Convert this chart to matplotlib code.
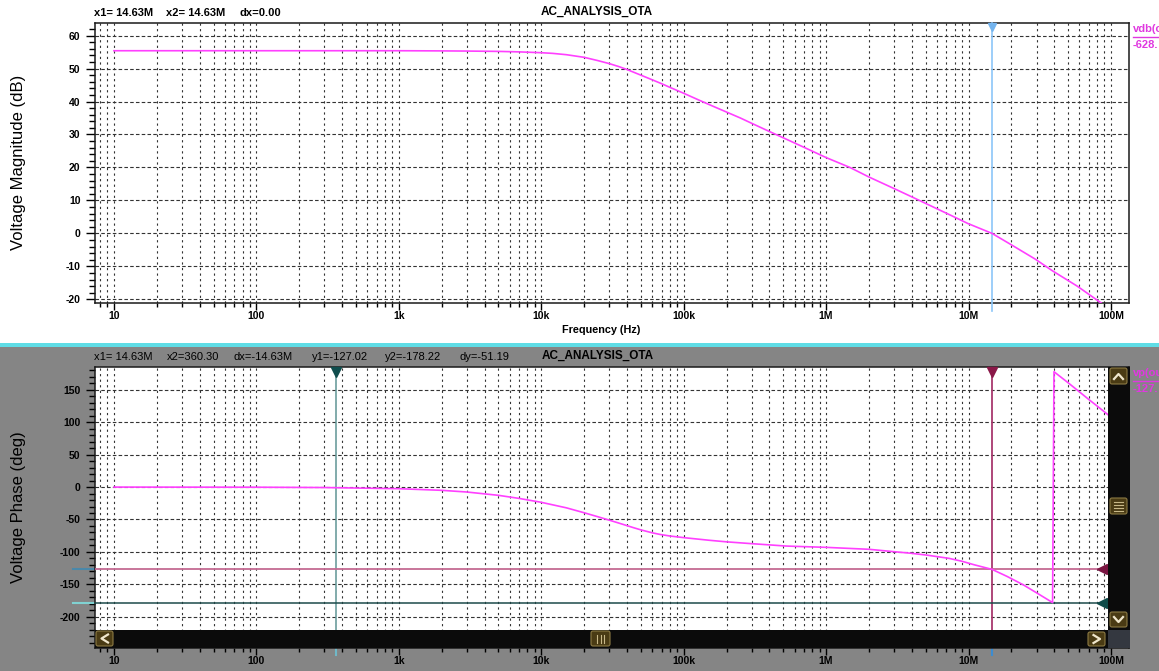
import numpy as np
import matplotlib
matplotlib.use("Agg")
import matplotlib.pyplot as plt
from matplotlib.patches import Rectangle, FancyBboxPatch
from matplotlib.ticker import LogLocator, MultipleLocator, NullFormatter

plt.rcParams["font.family"] = ["Liberation Sans", "DejaVu Sans"]
plt.rcParams["axes.unicode_minus"] = False

W, H = 1159, 671

# ---- magnitude response (dB) ----
freq_mag = [10, 100, 1e3, 2e3, 3e3, 5e3, 7e3, 10e3, 12e3, 15e3, 20e3, 25e3, 30e3,
            35e3, 40e3, 50e3, 60e3, 70e3, 80e3, 100e3, 130e3, 160e3, 200e3,
            250e3, 300e3, 400e3, 500e3, 700e3, 1e6, 1.47e6, 2e6, 3e6, 3.9e6,
            5.85e6, 7.5e6, 9.9e6, 14.63e6, 19.7e6, 29.4e6, 39e6, 58e6, 86e6, 100e6]
mag_db = [55.4, 55.4, 55.4, 55.35, 55.3, 55.2, 55.05, 54.8, 54.6, 54.2, 53.4, 52.4, 51.5,
          50.6, 49.7, 48.0, 46.6, 45.4, 44.3, 42.5, 40.3, 38.6, 36.8,
          35.0, 33.4, 30.9, 29.0, 26.1, 23.0, 20.0, 17.1, 13.6, 11.3,
          7.7, 5.5, 3.0, 0.0, -3.3, -7.8, -11.4, -16.0, -21.2, -23.0]

# ---- phase response (deg), wrapped at -180 ----
freq_ph = [10, 100, 300, 1e3, 2e3, 3e3, 5e3, 7e3, 10e3, 15e3, 20e3, 25e3, 30e3, 35e3,
           40e3, 45e3, 50e3, 60e3, 68e3, 80e3, 100e3, 150e3, 200e3, 300e3, 525e3,
           1e6, 2e6, 3e6, 3.9e6, 5.1e6, 7.3e6, 9e6, 11e6, 14.63e6, 18.7e6, 24.3e6,
           31e6, 38.9e6, 39.8e6, 50e6, 60e6, 70e6, 80e6, 90e6, 100e6]
phase_deg = [0, -0.2, -0.7, -2.5, -5, -7.6, -12.7, -17.5, -23.5, -32, -39.6, -45.8, -51,
             -55.5, -59.5, -63, -66, -70.5, -73, -75.5, -78, -82, -84.5, -87.3, -91,
             -93, -96, -99.7, -102, -105, -110, -114.5, -120, -127.02, -138, -151,
             -165, -178.2, 178, 161, 147, 135, 125, 116, 108]

# cursor readouts
x1_cur, x2_cur = 14.63e6, 360.30
y1_cur, y2_cur = -127.02, -178.22

top_header = ["x1= 14.63M", "x2= 14.63M", "dx=0.00"]
bot_header = ["x1= 14.63M", "x2=360.30", "dx=-14.63M", "y1=-127.02", "y2=-178.22", "dy=-51.19"]
title = "AC_ANALYSIS_OTA"

xtick_vals = [1e1, 1e2, 1e3, 1e4, 1e5, 1e6, 1e7, 1e8]
xtick_lbls = ["10", "100", "1k", "10k", "100k", "1M", "10M", "100M"]
mag_ticks = [-20, -10, 0, 10, 20, 30, 40, 50, 60]
ph_ticks = [-200, -150, -100, -50, 0, 50, 100, 150]

CURVE = "#ff40ff"
GRID = "#333333"


def rect(x0, y0, x1, y1):
    return [x0 / W, 1 - y1 / H, (x1 - x0) / W, (y1 - y0) / H]


fig = plt.figure(figsize=(W / 100, H / 100), dpi=100)
fig.patch.set_facecolor("white")

# background layer: grey lower pane and cyan separator
bg = fig.add_axes([0, 0, 1, 1], zorder=-5)
bg.set_xlim(0, W); bg.set_ylim(H, 0); bg.axis("off")
bg.add_patch(Rectangle((0, 346.5), W, H - 346.5, color="#858585", lw=0))
bg.add_patch(Rectangle((0, 343), W, 3.5, color="#5fdde6", lw=0))


def style_axes(ax, ylim, yticks, yminor):
    ax.set_xscale("log")
    ax.set_xlim(7.36, 1.338e8)
    ax.set_ylim(*ylim)
    ax.set_xticks(xtick_vals, labels=xtick_lbls, fontweight="bold", fontsize=7.5)
    ax.xaxis.set_minor_locator(LogLocator(base=10, subs=np.arange(2, 10), numticks=100))
    ax.xaxis.set_minor_formatter(NullFormatter())
    ax.set_yticks(yticks, labels=[str(v) for v in yticks], fontweight="bold", fontsize=7.5)
    ax.yaxis.set_minor_locator(MultipleLocator(yminor))
    ax.tick_params(axis="y", which="major", direction="out", length=6.5, width=1.0, pad=4)
    ax.tick_params(axis="y", which="minor", direction="out", length=4.3, width=1.0)
    ax.tick_params(axis="x", which="major", direction="out", length=5, width=1.0, pad=1)
    ax.tick_params(axis="x", which="minor", direction="out", length=3, width=1.0)
    ax.grid(True, which="both", axis="x", color=GRID, lw=0.8, linestyle=(0, (2, 3)))
    ax.grid(True, which="major", axis="y", color=GRID, lw=0.8, linestyle=(0, (3.2, 2)))
    ax.set_axisbelow(True)
    for s in ax.spines.values():
        s.set_color("#1a1a1a")
        s.set_linewidth(1.1)


# ---- magnitude pane ----
ax1 = fig.add_axes(rect(95, 22.7, 1129, 303))
style_axes(ax1, (-21.1, 63.9), mag_ticks, 2)
xt = ax1.get_xaxis_transform()
ax1.plot([x1_cur, x1_cur], [-0.03, 1.0], transform=xt, color="#8cc6f8", lw=1.2,
         clip_on=False, zorder=3)
ax1.plot([x1_cur], [0.985], transform=xt, marker="v", ms=6, color="#74b4ee",
         clip_on=False, zorder=4)
ax1.plot(freq_mag, mag_db, color=CURVE, lw=1.2, zorder=5)
ax1.set_ylabel("Voltage Magnitude (dB)", fontsize=12)
ax1.yaxis.set_label_coords(-0.0667, 0.5)

# ---- phase pane ----
ax2 = fig.add_axes(rect(95, 367, 1129, 648))
style_axes(ax2, (-248.3, 185.3), ph_ticks, 10)
ax2.axvline(x2_cur, color="#5f9494", lw=1.1, zorder=3)
ax2.axvline(x1_cur, color="#a8386e", lw=1.3, zorder=3)
ax2.axhline(y1_cur, color="#c46a92", lw=1.3, zorder=3)
ax2.axhline(y2_cur, color="#1c4a4a", lw=1.1, zorder=3)
xt2 = ax2.get_xaxis_transform()
yt2 = ax2.get_yaxis_transform()
ax2.plot([x2_cur], [0.982], transform=xt2, marker="v", ms=7, color="#0f4d4d",
         clip_on=False, zorder=6)
ax2.plot([x1_cur], [0.982], transform=xt2, marker="v", ms=7, color="#8a1848",
         clip_on=False, zorder=6)
ax2.plot([0.974], [y1_cur], transform=yt2, marker="<", ms=7, color="#7a1542",
         clip_on=False, zorder=6)
ax2.plot([0.974], [y2_cur], transform=yt2, marker="<", ms=7, color="#0e4a48",
         clip_on=False, zorder=6)
# cursor level / position indicators on the axes
ax2.plot([-0.0213, 0], [y1_cur, y1_cur], transform=yt2, color="#4a88aa", lw=1.5, clip_on=False)
ax2.plot([-0.0213, 0], [y2_cur, y2_cur], transform=yt2, color="#80d2d2", lw=1.5, clip_on=False)
ax2.plot([x2_cur, x2_cur], [0, -0.025], transform=xt2, color="#70b8c8", lw=1.5, clip_on=False)
ax2.plot([x1_cur, x1_cur], [0, -0.025], transform=xt2, color="#3c8cd0", lw=1.5, clip_on=False)
ax2.plot(freq_ph, phase_deg, color=CURVE, lw=1.2, zorder=5)
ax2.set_ylabel("Voltage Phase (deg)", fontsize=12)
ax2.yaxis.set_label_coords(-0.0667, 0.5)

# ---- foreground: headers, readouts, scrollbars ----
fg = fig.add_axes([0, 0, 1, 1], zorder=10)
fg.set_xlim(0, W); fg.set_ylim(H, 0); fg.axis("off")

for x, s in zip([94, 166, 239], top_header):
    fg.text(x, 13, s, fontsize=8, fontweight="bold", ha="left", va="center")
fg.text(597, 12, title, fontsize=8.5, fontweight="bold", ha="center", va="center")
fg.text(601, 330, "Frequency (Hz)", fontsize=7.8, fontweight="bold", ha="center", va="center")

for x, s in zip([94, 167, 234, 312, 385, 460], bot_header):
    fg.text(x, 357, s, fontsize=8, ha="left", va="center")
fg.text(598, 356, title, fontsize=8.5, fontweight="bold", ha="center", va="center")

MAG = "#e038e0"
fg.text(1133, 29, "vdb(out)", fontsize=8, fontweight="bold", color=MAG, ha="left", va="center")
fg.plot([1133, W], [37, 37], color=MAG, lw=1)
fg.text(1133, 45, "-628.", fontsize=8, fontweight="bold", color=MAG, ha="left", va="center")
fg.text(1133, 373, "vp(out)", fontsize=8, fontweight="bold", color=MAG, ha="left", va="center")
fg.plot([1133, W], [381, 381], color=MAG, lw=1)
fg.text(1133, 389, "-127.", fontsize=8, fontweight="bold", color=MAG, ha="left", va="center")

# scrollbars
fg.add_patch(Rectangle((95, 629.5), 1013, 18.5, color="#0b0b0b", lw=0))
fg.add_patch(Rectangle((1108, 366.5), 21.5, 263, color="#0b0b0b", lw=0))
fg.add_patch(Rectangle((1108, 629.5), 21.5, 18.5, color="#343840", lw=0))

BTN_FILL, BTN_EDGE, GLYPH = "#4a3b14", "#8c7a44", "#efe6cc"


def button(x, y, w, h):
    fg.add_patch(FancyBboxPatch((x, y), w, h, boxstyle="round,pad=0,rounding_size=2",
                                fc=BTN_FILL, ec=BTN_EDGE, lw=0.8))


button(96, 631, 17, 15)
fg.plot([108, 101.5, 108], [634.5, 638.5, 642.5], color=GLYPH, lw=1.6)
button(1088, 632, 17, 14)
fg.plot([1093.5, 1100, 1093.5], [635, 639, 643], color=GLYPH, lw=1.6)
button(591, 631, 19, 15)
for xx in (597, 600.5, 604):
    fg.plot([xx, xx], [634.5, 642.5], color="#c8b888", lw=0.8)
button(1110, 368, 17, 16)
fg.plot([1114, 1118.5, 1123], [379, 374, 379], color=GLYPH, lw=1.6)
button(1110, 498, 17, 16)
for yy in (502, 505, 508, 511):
    fg.plot([1114, 1123], [yy, yy], color="#c8b888", lw=0.8)
button(1110, 612, 17, 15)
fg.plot([1114, 1118.5, 1123], [617, 622, 617], color=GLYPH, lw=1.6)

fig.savefig("out.png", dpi=100)
